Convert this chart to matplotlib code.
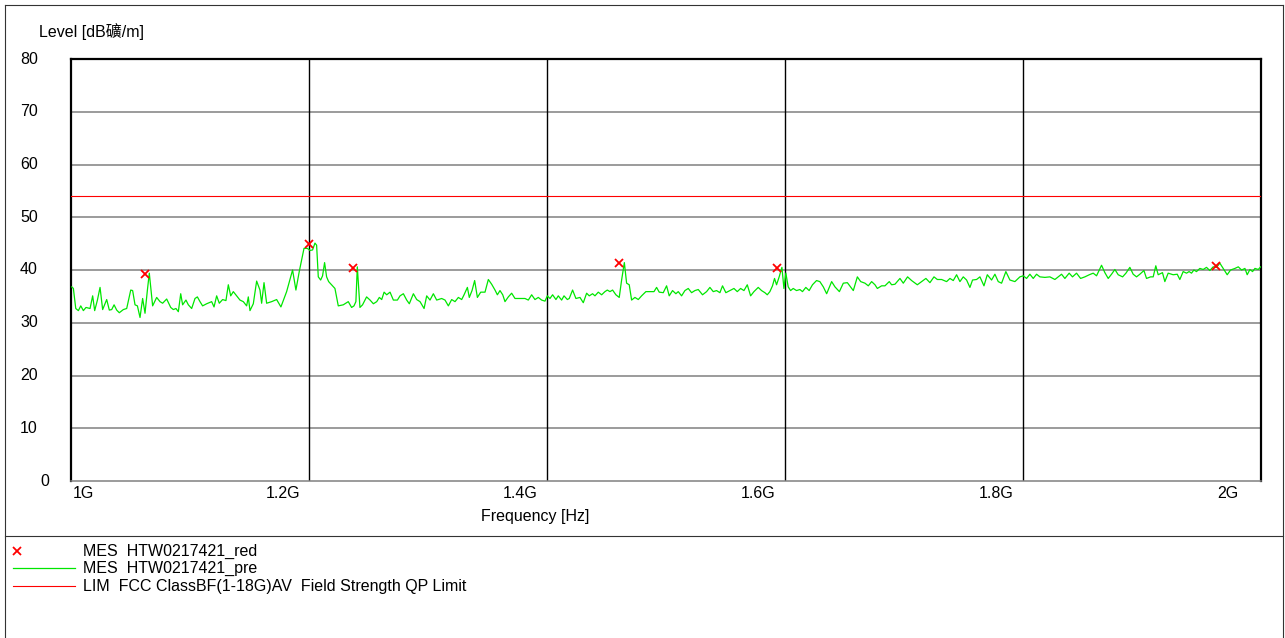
"""
EMC scan plot: radiated emission 1-2 GHz vs. FCC Class B AV limit.
"""

import matplotlib
matplotlib.use("Agg")
import matplotlib.pyplot as plt
import matplotlib.transforms as mtransforms
from matplotlib.lines import Line2D

plt.rcParams["font.family"] = ["Liberation Sans", "Noto Sans CJK SC", "DejaVu Sans"]
plt.rcParams["font.size"] = 11.5

W, H = 1285, 638

# pre-scan trace (MHz, dBuV/m)
freq_mhz = [
    1000.6, 1002.0, 1004.0, 1006.2, 1008.2, 1010.4, 1012.6, 1016.0, 1018.2, 1019.9,
    1022.2, 1024.4, 1026.6, 1030.0, 1032.2, 1034.2, 1036.2, 1038.4, 1040.6, 1044.0,
    1046.8, 1050.2, 1051.8, 1053.8, 1055.8, 1058.0, 1060.2, 1062.2, 1064.2, 1065.8,
    1068.6, 1072.0, 1074.8, 1077.0, 1080.4, 1083.8, 1086.0, 1088.2, 1090.2, 1092.2,
    1093.8, 1096.6, 1098.6, 1101.4, 1104.2, 1106.2, 1108.4, 1110.6, 1114.0, 1118.2,
    1120.2, 1122.4, 1124.6, 1127.4, 1130.2, 1132.2, 1134.2, 1136.4, 1139.2, 1142.0,
    1144.8, 1147.6, 1149.0, 1150.4, 1153.2, 1156.0, 1158.8, 1160.2, 1162.2, 1164.4,
    1168.6, 1172.8, 1176.4, 1181.2, 1186.2, 1189.0, 1191.8, 1195.8, 1198.6, 1200.8,
    1203.0, 1205.0, 1206.4, 1207.8, 1209.8, 1211.4, 1213.1, 1214.8, 1216.5, 1221.8,
    1224.6, 1228.8, 1233.0, 1235.8, 1237.8, 1239.4, 1240.6, 1242.8, 1245.0, 1248.4,
    1251.3, 1254.1, 1256.9, 1259.1, 1261.1, 1263.1, 1265.3, 1268.1, 1270.9, 1274.3,
    1276.5, 1279.3, 1282.1, 1284.3, 1287.7, 1290.5, 1293.3, 1296.7, 1298.9, 1301.7,
    1304.5, 1307.3, 1311.5, 1314.3, 1317.1, 1319.9, 1322.7, 1325.5, 1328.3, 1330.3,
    1333.1, 1334.7, 1337.0, 1339.2, 1341.5, 1344.3, 1347.9, 1350.7, 1353.5, 1356.3,
    1358.3, 1360.5, 1362.8, 1364.7, 1367.5, 1370.3, 1373.1, 1377.3, 1381.5, 1384.3,
    1387.1, 1389.9, 1392.7, 1395.5, 1398.3, 1400.3, 1402.5, 1404.7, 1407.5, 1409.5,
    1412.3, 1414.3, 1417.1, 1418.7, 1421.5, 1424.3, 1427.7, 1430.5, 1433.3, 1435.5,
    1438.3, 1440.3, 1443.1, 1445.9, 1448.7, 1450.7, 1452.9, 1455.1, 1457.9, 1460.7,
    1462.7, 1465.0, 1466.9, 1469.1, 1471.1, 1473.9, 1476.7, 1479.5, 1483.1, 1486.5,
    1489.9, 1492.1, 1494.3, 1497.7, 1500.5, 1502.7, 1505.5, 1508.3, 1510.3, 1513.1,
    1515.9, 1518.7, 1521.5, 1524.3, 1527.1, 1530.7, 1534.1, 1536.9, 1539.7, 1542.5,
    1545.3, 1547.5, 1550.3, 1553.7, 1557.1, 1559.9, 1562.7, 1565.5, 1568.3, 1571.1,
    1573.9, 1577.5, 1580.3, 1583.1, 1585.1, 1587.3, 1589.5, 1591.2, 1592.9, 1595.1,
    1597.4, 1599.1, 1600.7, 1602.7, 1604.7, 1606.9, 1609.7, 1612.5, 1614.7, 1617.5,
    1620.3, 1623.1, 1626.5, 1629.3, 1632.2, 1635.0, 1639.2, 1642.0, 1645.7, 1649.0,
    1652.4, 1657.4, 1660.8, 1663.6, 1667.2, 1670.0, 1672.8, 1675.6, 1677.6, 1681.2,
    1684.0, 1687.6, 1689.6, 1692.4, 1696.6, 1699.4, 1703.0, 1706.4, 1711.2, 1714.8,
    1718.4, 1721.8, 1725.2, 1728.0, 1731.6, 1735.8, 1738.6, 1741.4, 1744.2, 1747.0,
    1749.8, 1752.6, 1755.4, 1757.6, 1761.0, 1763.8, 1767.2, 1770.0, 1773.6, 1776.4,
    1779.2, 1782.0, 1785.6, 1789.0, 1793.2, 1797.4, 1800.2, 1803.0, 1805.8, 1808.6,
    1811.4, 1814.2, 1818.4, 1822.6, 1826.8, 1829.6, 1832.4, 1835.2, 1838.8, 1841.6,
    1845.0, 1848.4, 1852.0, 1855.7, 1859.0, 1861.8, 1866.0, 1868.8, 1871.6, 1874.4,
    1877.2, 1880.0, 1883.7, 1886.5, 1889.8, 1892.6, 1895.4, 1898.2, 1901.6, 1903.8,
    1907.2, 1909.4, 1911.6, 1913.6, 1917.2, 1919.2, 1922.0, 1926.2, 1929.6, 1931.8,
    1934.6, 1937.4, 1939.6, 1941.6, 1943.6, 1945.8, 1948.6, 1951.4, 1954.2, 1957.0,
    1959.8, 1962.6, 1965.4, 1968.2, 1971.6, 1974.4, 1978.1, 1980.9, 1983.7, 1986.5,
    1988.4, 1990.7, 1992.9, 1994.9, 1997.7, 1999.7,
]
level_db = [
    36.8, 36.5, 32.7, 32.3, 33.2, 32.3, 32.9, 32.7, 35.1, 32.3,
    34.3, 36.7, 32.5, 34.4, 32.4, 32.5, 33.4, 32.4, 31.9, 32.5,
    32.7, 36.2, 36.1, 33.4, 33.2, 31.0, 34.6, 31.8, 36.2, 39.4,
    33.2, 34.8, 34.0, 33.7, 34.5, 32.9, 32.5, 32.7, 32.1, 35.5,
    33.4, 34.3, 33.4, 32.7, 34.6, 34.9, 34.0, 33.2, 33.6, 34.0,
    33.0, 35.1, 33.7, 34.4, 34.2, 37.2, 35.1, 35.9, 35.1, 34.3,
    34.0, 33.2, 34.9, 32.3, 33.6, 37.9, 36.2, 33.7, 37.6, 33.7,
    34.0, 34.4, 33.0, 35.9, 40.0, 36.2, 39.7, 44.1, 44.1, 43.7,
    43.8, 45.1, 44.7, 38.7, 38.1, 38.9, 41.4, 38.7, 37.8, 36.5,
    33.2, 33.4, 34.0, 32.9, 33.2, 34.0, 40.6, 32.9, 33.4, 34.9,
    34.3, 33.6, 34.0, 34.8, 34.4, 35.8, 35.3, 35.8, 34.3, 34.3,
    35.1, 35.5, 34.3, 33.6, 35.5, 34.4, 34.0, 32.7, 35.1, 34.3,
    35.5, 34.3, 34.6, 34.3, 33.2, 34.4, 34.0, 34.8, 34.4, 35.3,
    36.7, 34.8, 36.1, 38.0, 34.8, 35.8, 35.8, 38.2, 37.3, 36.2,
    35.3, 36.1, 35.3, 34.0, 34.9, 35.6, 34.6, 34.6, 34.6, 34.3,
    35.3, 34.4, 34.8, 34.3, 34.1, 35.1, 34.6, 35.3, 34.4, 35.1,
    34.3, 35.1, 34.4, 34.6, 36.2, 34.6, 34.8, 33.8, 35.6, 35.1,
    35.5, 35.1, 35.8, 35.3, 35.9, 36.2, 35.9, 36.2, 35.3, 34.8,
    38.1, 41.4, 37.5, 37.2, 34.3, 34.8, 34.4, 35.1, 35.9, 35.9,
    35.9, 36.7, 35.8, 35.7, 37.0, 35.1, 36.1, 35.5, 35.9, 35.1,
    36.1, 36.5, 35.7, 36.1, 36.3, 35.3, 35.9, 36.7, 35.9, 36.1,
    35.7, 37.0, 35.7, 36.1, 36.5, 35.9, 36.5, 36.1, 37.2, 35.1,
    35.9, 36.7, 36.1, 35.7, 35.3, 35.9, 37.0, 38.4, 37.2, 38.7,
    40.5, 36.5, 39.4, 36.8, 36.1, 36.5, 36.1, 36.3, 35.9, 36.7,
    36.1, 37.2, 38.0, 37.8, 36.8, 35.5, 37.8, 36.8, 35.9, 37.5,
    37.6, 36.1, 38.7, 37.8, 37.5, 37.0, 37.8, 37.2, 36.5, 37.0,
    37.0, 37.8, 37.2, 37.3, 38.4, 37.5, 38.7, 38.0, 37.2, 37.8,
    38.4, 37.6, 38.7, 38.2, 38.2, 37.8, 38.4, 38.0, 39.1, 37.8,
    38.7, 38.1, 36.7, 38.1, 38.2, 38.7, 37.0, 39.1, 38.1, 39.2,
    37.8, 37.5, 39.7, 38.1, 37.8, 38.7, 38.9, 38.4, 39.2, 38.4,
    39.2, 38.7, 38.6, 38.7, 38.2, 38.7, 39.2, 38.4, 39.4, 38.7,
    39.4, 38.4, 38.7, 39.1, 39.4, 38.9, 40.9, 39.5, 38.4, 39.2,
    40.1, 39.1, 38.7, 39.4, 40.5, 39.2, 38.7, 39.2, 39.9, 38.4,
    38.7, 38.7, 40.8, 39.1, 39.5, 37.8, 39.4, 39.1, 39.2, 38.2,
    39.7, 39.4, 39.7, 39.4, 40.0, 39.7, 40.3, 40.1, 40.5, 39.9,
    40.6, 40.5, 41.3, 40.3, 39.1, 40.0, 40.3, 40.6, 40.0, 40.3,
    39.1, 40.1, 39.7, 40.3, 40.1, 40.6,
]

# final measurement points (red x)
peak_freq_mhz = [1062.2, 1200.2, 1236.7, 1460.7, 1593.5, 1962.1]
peak_level_db = [39.2, 44.9, 40.3, 41.3, 40.3, 40.8]

# limit line
limit_freq_mhz = [1000, 2000]
limit_level_db = [54.0, 54.0]

x_ticks_hz = [1.0e9, 1.2e9, 1.4e9, 1.6e9, 1.8e9, 2.0e9]
x_tick_labels = ["1G", "1.2G", "1.4G", "1.6G", "1.8G", "2G"]
y_ticks = [0, 10, 20, 30, 40, 50, 60, 70, 80]

legend_labels = [
    "MES  HTW0217421_red",
    "MES  HTW0217421_pre",
    "LIM  FCC ClassBF(1-18G)AV  Field Strength QP Limit",
]

GREEN = "#00e600"
RED = "#ff0000"


def fx(x):
    return x / W


def fy(y):
    return 1 - y / H


fig = plt.figure(figsize=(W / 100, H / 100), dpi=100)
ax = fig.add_axes([fx(71), fy(481), 1190 / W, 422 / H])

ax.plot([f * 1e6 for f in freq_mhz], level_db, color=GREEN, lw=0.9, zorder=3)
ax.plot([f * 1e6 for f in limit_freq_mhz], limit_level_db, color=RED, lw=0.8, zorder=3)
ax.plot([f * 1e6 for f in peak_freq_mhz], peak_level_db, ls="none", marker="x",
        ms=6, mew=1.3, color=RED, zorder=4)

ax.set_xlim(x_ticks_hz[0], x_ticks_hz[-1])
ax.set_ylim(y_ticks[0], y_ticks[-1])

# grid: grey horizontals, black verticals
for v in y_ticks[1:-1]:
    ax.axhline(v, color="#808080", lw=1.1, zorder=1)
for v in x_ticks_hz[1:-1]:
    ax.axvline(v, color="black", lw=1.0, zorder=2)

for side in ("top", "left", "right"):
    ax.spines[side].set_color("black")
    ax.spines[side].set_linewidth(1.6)
ax.spines["bottom"].set_color("#808080")
ax.spines["bottom"].set_linewidth(1.1)
ax.set_xticks([])
ax.set_yticks([])

# tick labels, placed like the EMC32 report
ytr = ax.get_yaxis_transform()
for v in y_ticks:
    dx = -26 if v == 0 else -42
    tr = mtransforms.offset_copy(ytr, fig=fig, x=dx, y=0, units="dots")
    ax.text(0, v, str(v), transform=tr, ha="center", va="center")

xtr = ax.get_xaxis_transform()
for i, (v, lab) in enumerate(zip(x_ticks_hz, x_tick_labels)):
    if i == 0:
        ha, dx = "left", 2
    elif i == len(x_ticks_hz) - 1:
        ha, dx = "right", -23
    else:
        ha, dx = "right", -9
    tr = mtransforms.offset_copy(xtr, fig=fig, x=dx, y=-12, units="dots")
    ax.text(v, 0, lab, transform=tr, ha=ha, va="center")

fig.text(fx(39), fy(31), "Level [dB礦/m]", ha="left", va="center")
fig.text(fx(535), fy(516), "Frequency [Hz]", ha="center", va="center")

# outer frame + legend separator
frame_kw = dict(color="#333333", lw=0.8)
fig.add_artist(Line2D([fx(5), fx(1283)], [fy(5), fy(5)], **frame_kw))
fig.add_artist(Line2D([fx(5), fx(5)], [fy(5), 0], **frame_kw))
fig.add_artist(Line2D([fx(1283), fx(1283)], [fy(5), 0], **frame_kw))
fig.add_artist(Line2D([fx(5), fx(1283)], [fy(536), fy(536)], **frame_kw))

# legend
rows = [551, 568, 586]
fig.add_artist(Line2D([fx(17)], [fy(rows[0])], ls="none", marker="x", ms=6,
                      mew=1.3, color=RED))
fig.add_artist(Line2D([fx(13), fx(75)], [fy(rows[1]), fy(rows[1])], color=GREEN, lw=0.9))
fig.add_artist(Line2D([fx(13), fx(75)], [fy(rows[2]), fy(rows[2])], color=RED, lw=0.8))
for y, lab in zip(rows, legend_labels):
    fig.text(fx(83), fy(y), lab, ha="left", va="center")

fig.savefig("out.png", dpi=100)
